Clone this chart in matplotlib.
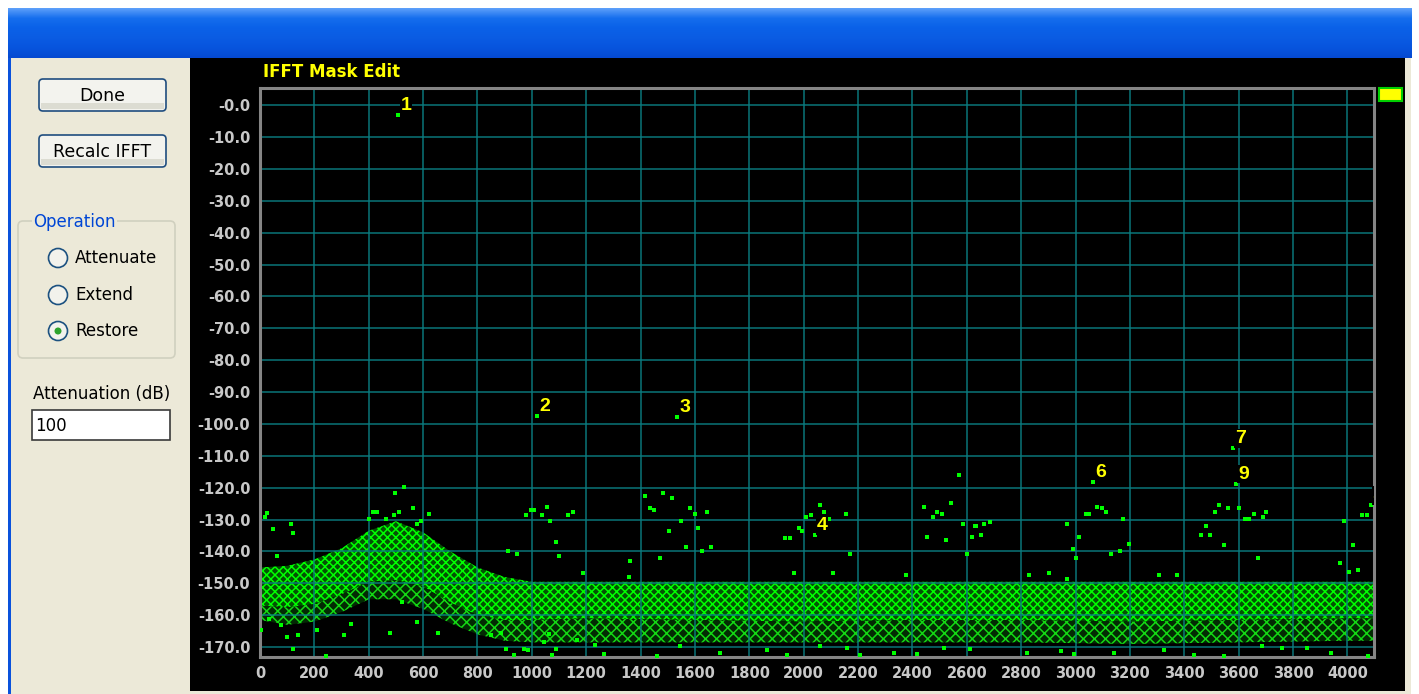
import numpy as np
import matplotlib.pyplot as plt
from matplotlib.patches import Rectangle, FancyBboxPatch, Circle

# labelled spectral peaks (Hz, dB)
peak_ids = ['1', '2', '3', '4', '6', '7', '9', '5']
peak_freq = [509, 1020, 1535, 2040, 3066, 3579, 3591, 4085]
peak_db = [-3.1, -97.5, -97.7, -134.8, -118.1, -107.6, -118.7, -125.4]

# noise floor envelope (Hz, dB)
env_freq = [0, 100, 200, 300, 400, 500, 600, 700, 800, 900, 1000,
            1200, 1600, 2000, 2400, 2800, 3200, 3600, 4000, 4096]
core_top = [-145, -144.5, -142.5, -139, -133.5, -130.5, -134, -140, -145, -148, -149.5,
            -149.5, -149.5, -149.5, -149.5, -149.5, -149.5, -149.5, -149.5, -149.5]
core_bottom = [-157, -157.5, -156.5, -153.5, -149.5, -149, -151, -156, -160, -161.5, -161.5,
               -161, -161.5, -162, -161.5, -161.5, -162, -161.5, -161, -161]
floor_bottom = [-161.5, -163, -162, -159, -155, -155, -158, -162.5, -166, -168, -168.5,
                -168.5, -168.5, -168.5, -168.5, -168.5, -169, -168.5, -168, -168]

# isolated bins above / below the floor (Hz, dB)
spur_freq = [27, 17, 49, 113, 122, 61, 530, 498, 414, 432, 511, 562, 621, 494, 465, 401,
             577, 592, 980, 997, 1007, 1036, 1056, 1068, 1132, 1153, 1088, 913, 1100, 945,
             1418, 1483, 1516, 1436, 1451, 1581, 1601, 1645, 1548, 1613, 1503, 1568, 1627,
             1659, 1470, 1360, 1930, 1951, 1983, 1995, 2010, 2028, 2061, 2075, 2093, 2157,
             2171, 2106, 1963, 2572, 2443, 2489, 2510, 2477, 2541, 2455, 2522, 2587, 2632,
             2619, 2599, 2378, 1187, 1359, 2631, 2664, 2684, 2651, 2967, 3014, 2989, 3002,
             3039, 3048, 3079, 3099, 3112, 3176, 3196, 3164, 3131, 3526, 3514, 3559, 3603,
             3624, 3638, 3655, 3702, 3688, 3481, 3461, 3494, 3547, 3670, 4052, 4073, 3986,
             4020, 3974, 4006, 4039, 3306, 3373, 2904, 2828, 2970,
             2, 101, 140, 122, 211, 243, 309, 334, 479, 523, 653, 579, 33, 76, 905, 933,
             970, 987, 1074, 1089, 1046, 1064, 1165, 850, 887, 1233, 1264, 1460, 1546, 1693,
             1865, 1939, 2061, 2159, 2208, 2331, 2417, 2515, 2613, 2822, 2945, 2994, 3141,
             3325, 3435, 3546, 3687, 3761, 3853, 3939, 4074]
spur_db = [-128.0, -129.3, -133.0, -131.3, -134.2, -141.4, -119.8, -121.5, -127.6, -127.6,
           -127.6, -126.4, -128.1, -128.6, -129.9, -129.9, -131.3, -130.3, -128.5, -127.0,
           -127.0, -128.7, -125.9, -130.4, -128.7, -127.6, -137.0, -139.7, -141.4, -140.8,
           -122.6, -121.5, -123.1, -126.2, -127.0, -126.4, -128.1, -127.6, -130.3, -132.5,
           -133.6, -138.6, -139.7, -138.6, -141.9, -143.0, -135.8, -135.8, -132.5, -133.6,
           -129.3, -128.6, -125.4, -127.6, -129.7, -128.1, -140.8, -146.8, -146.8, -116.0,
           -125.9, -127.6, -128.1, -129.2, -124.9, -135.3, -136.4, -131.4, -131.9, -135.3,
           -140.8, -147.3, -146.8, -147.9, -131.9, -131.4, -130.8, -134.8, -131.4, -135.3,
           -139.2, -141.9, -128.1, -128.1, -125.9, -126.4, -127.6, -129.8, -137.5, -139.7,
           -140.8, -125.4, -127.6, -126.4, -126.4, -129.8, -129.8, -128.1, -127.6, -129.3,
           -131.9, -134.8, -134.8, -138.0, -141.9, -128.7, -128.7, -130.3, -138.0, -143.6,
           -146.4, -145.8, -147.4, -147.4, -146.8, -147.4, -148.5,
           -164.6, -166.7, -166.1, -170.6, -164.6, -172.9, -166.1, -162.8, -165.6, -155.7,
           -165.6, -162.0, -161.2, -163.0, -170.6, -172.4, -170.6, -170.8, -172.4, -170.6,
           -168.5, -165.8, -167.7, -166.1, -165.6, -169.3, -172.1, -172.7, -169.8, -171.9,
           -170.8, -172.5, -169.8, -170.3, -172.5, -171.7, -172.1, -170.3, -170.6, -171.9,
           -171.1, -172.1, -171.9, -170.8, -172.4, -172.7, -169.8, -170.3, -170.3, -171.9,
           -172.9]

x_ticks = list(range(0, 4001, 200))
y_ticks = list(range(-170, 1, 10))

W, H = 1419, 694
fig = plt.figure(figsize=(W / 100, H / 100), dpi=100, facecolor='white')

# window chrome drawn in pixel coordinates
bg = fig.add_axes([0, 0, 1, 1])
bg.set_xlim(0, W)
bg.set_ylim(H, 0)
bg.axis('off')

grad = np.array([[0.36, 0.62, 0.98], [0.08, 0.43, 0.93], [0.04, 0.38, 0.91],
                 [0.04, 0.36, 0.89], [0.03, 0.33, 0.87], [0.02, 0.29, 0.82]])
rows = np.linspace(0, 1, 50)
bar = np.stack([np.interp(rows, np.linspace(0, 1, len(grad)), grad[:, c]) for c in range(3)], axis=1)
bg.imshow(bar[:, None, :].repeat(2, axis=1), extent=[8, 1412, 58, 8], aspect='auto', zorder=1)

bg.add_patch(Rectangle((8, 58), 3, 636, fc='#0A52DC', ec='none', zorder=1))
bg.add_patch(Rectangle((11, 58), 179, 636, fc='#ECE9D8', ec='none', zorder=1))
bg.add_patch(Rectangle((190, 58), 1215, 633, fc='black', ec='none', zorder=1))
bg.add_patch(Rectangle((1405, 58), 6, 636, fc='#ECE9D8', ec='none', zorder=1))
bg.add_patch(Rectangle((190, 691), 1221, 3, fc='#ECE9D8', ec='none', zorder=1))

ui_font = dict(family='DejaVu Sans', color='black')
for label, y0 in [('Done', 79), ('Recalc IFFT', 135)]:
    bg.add_patch(FancyBboxPatch((39, y0), 127, 32, boxstyle='round,pad=0,rounding_size=4',
                                fc='#F3F3EE', ec='#1F4D7F', lw=1.2, zorder=2))
    bg.add_patch(Rectangle((41, y0 + 24), 123, 6, fc='#DCDCD2', ec='none', zorder=2))
    bg.text(102, y0 + 16.5, label, ha='center', va='center', fontsize=12.5, zorder=3, **ui_font)

bg.add_patch(FancyBboxPatch((18, 221), 157, 137, boxstyle='round,pad=0,rounding_size=5',
                            fc='none', ec='#D0D0BF', lw=1.2, zorder=2))
bg.text(33, 222, 'Operation', ha='left', va='center', fontsize=12, color='#0046D5',
        family='DejaVu Sans', zorder=3,
        bbox=dict(fc='#ECE9D8', ec='none', pad=1))
for label, y0, on in [('Attenuate', 258, False), ('Extend', 295, False), ('Restore', 331, True)]:
    bg.add_patch(Circle((58, y0), 9.5, fc='#F2F2EC', ec='#1C5180', lw=1.2, zorder=2))
    if on:
        bg.add_patch(Circle((58, y0), 3.5, fc='#2DA32D', ec='none', zorder=3))
    bg.text(75, y0, label, ha='left', va='center', fontsize=12, zorder=3, **ui_font)

bg.text(33, 394, 'Attenuation (dB)', ha='left', va='center', fontsize=12, zorder=3, **ui_font)
bg.add_patch(Rectangle((32, 410), 138, 30, fc='white', ec='#3A3A3A', lw=1.2, zorder=2))
bg.text(35, 425.5, '100', ha='left', va='center', fontsize=12, zorder=3, **ui_font)

bg.text(263, 72, 'IFFT Mask Edit', ha='left', va='center', fontsize=12, fontweight='bold',
        color='#FFFF00', family='DejaVu Sans', zorder=3)
bg.add_patch(Rectangle((1379, 88), 23, 13, fc='#FFFF00', ec='#00D000', lw=1.5, zorder=3))

# spectrum plot area
left, right, top, bottom = 260, 1373.5, 88.3, 656.7
ax = fig.add_axes([left / W, (H - bottom) / H, (right - left) / W, (bottom - top) / H])
ax.set_facecolor('black')
ax.set_xlim(0, 4096)
ax.set_ylim(-173.0, 5.3)

green = '#00FF00'
plt.rcParams['hatch.linewidth'] = 1.1
# dense noise floor, then the thinner fringe under it
ax.fill_between(env_freq, core_bottom, core_top, facecolor='#045004', edgecolor=green,
                hatch='xxxx', linewidth=0, zorder=1)
ax.fill_between(env_freq, floor_bottom, core_bottom, facecolor='#032a03', edgecolor='#14D814',
                hatch='xxx', linewidth=0, zorder=1)

teal = '#0B7C80'
for xv in x_ticks:
    ax.axvline(xv, color=teal, lw=1.3, alpha=0.8, zorder=2)
for yv in y_ticks:
    ax.axhline(yv, color=teal, lw=1.3, alpha=0.8, zorder=2)

ax.plot(spur_freq, spur_db, 's', color=green, markersize=2.3, markeredgewidth=0, zorder=3)
ax.plot(peak_freq, peak_db, 's', color=green, markersize=2.3, markeredgewidth=0, zorder=3)
for pid, f, d in zip(peak_ids, peak_freq, peak_db):
    ax.annotate(pid, (f, d), xytext=(2, 1), textcoords='offset pixels', ha='left', va='bottom',
                fontsize=14, fontweight='bold', color='#FFFF00',
                family=['Liberation Sans Narrow', 'Liberation Sans'],
                bbox=dict(fc='black', ec='none', pad=0.5), zorder=6, annotation_clip=False,
                clip_on=True)

ax.set_xticks(x_ticks)
ax.set_xticklabels([str(v) for v in x_ticks])
ax.set_yticks(y_ticks)
ax.set_yticklabels(['-0.0' if v == 0 else f'{v:.1f}' for v in y_ticks])
ax.tick_params(length=0, colors='#C8C8C8', labelsize=10.5, pad=7)
for lab in ax.get_xticklabels() + ax.get_yticklabels():
    lab.set_fontweight('bold')
    lab.set_family('DejaVu Sans')
for s in ax.spines.values():
    s.set_color('#858585')
    s.set_linewidth(2.2)

fig.savefig('out.png', dpi=100, facecolor='white')
